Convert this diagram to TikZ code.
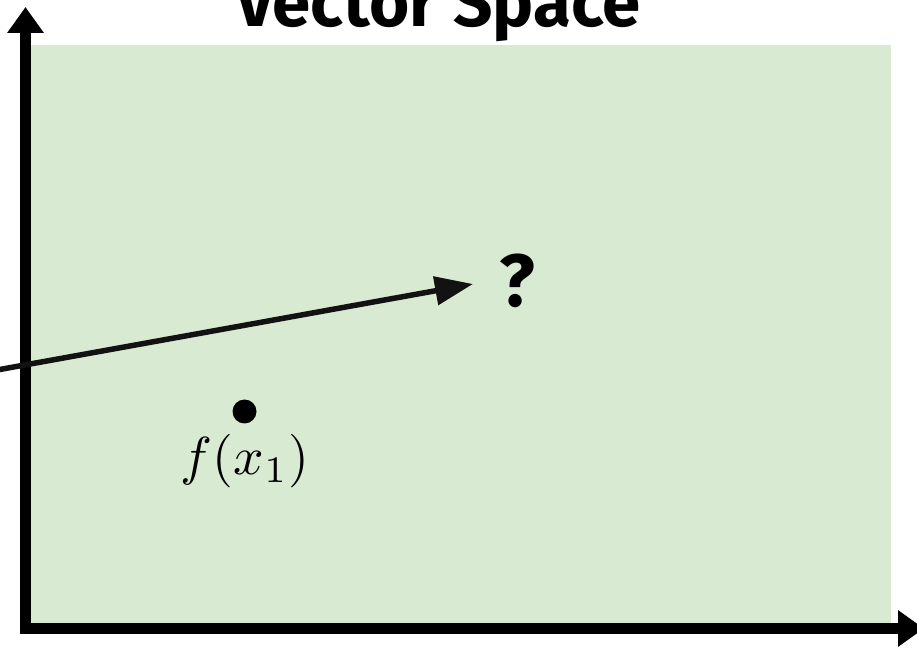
\documentclass[tikz,border=0pt]{standalone}
\usepackage[no-math]{fontspec}
\newfontfamily\headfont{Fira Sans}
\usepackage{tikz}
\usetikzlibrary{arrows.meta}
\usepackage{xcolor}
\definecolor{spacegreen}{HTML}{D9EAD3}

\begin{document}
\begin{tikzpicture}[x=1pt, y=1pt, >=Triangle,
    axis/.style={-{Triangle[length=26pt,width=35pt]}, line width=11pt},
    query/.style={-{Triangle[length=38pt,width=28pt]}, line width=5.5pt, black!93},
    headline/.style={font=\headfont\bfseries\fontsize{69}{76}\selectfont}]
    \useasboundingbox (0,0) rectangle (917,648);
    % Raum als gruene Flaeche
    \fill[spacegreen] (31,25) rectangle (891,603);
    \node[headline, anchor=base] (title) at (438,621) {Vector Space};
    \coordinate (yfoot) at (25.5,14);
    \coordinate (ytop) at (25.5,641);
    \coordinate (xfoot) at (20,19.5);
    \coordinate (xend) at (924,19.5);
    \draw[axis] (yfoot) -- (ytop);
    \draw[axis] (xfoot) -- (xend);
    \node[circle, fill=black, inner sep=0pt, minimum size=24pt] (fx) at (244.5,236.5) {};
    \node[scale=5.35] (fxlabel) at (245,186.5) {$f(x_1)$};
    \node[font=\headfont\bfseries\fontsize{74}{80}\selectfont] (q) at (517.5,367.5) {?};
    \coordinate (qstart) at (-3,278);
    \coordinate (qtip) at (473,364);
    \draw[query] (qstart) -- (qtip);
\end{tikzpicture}
\end{document}
